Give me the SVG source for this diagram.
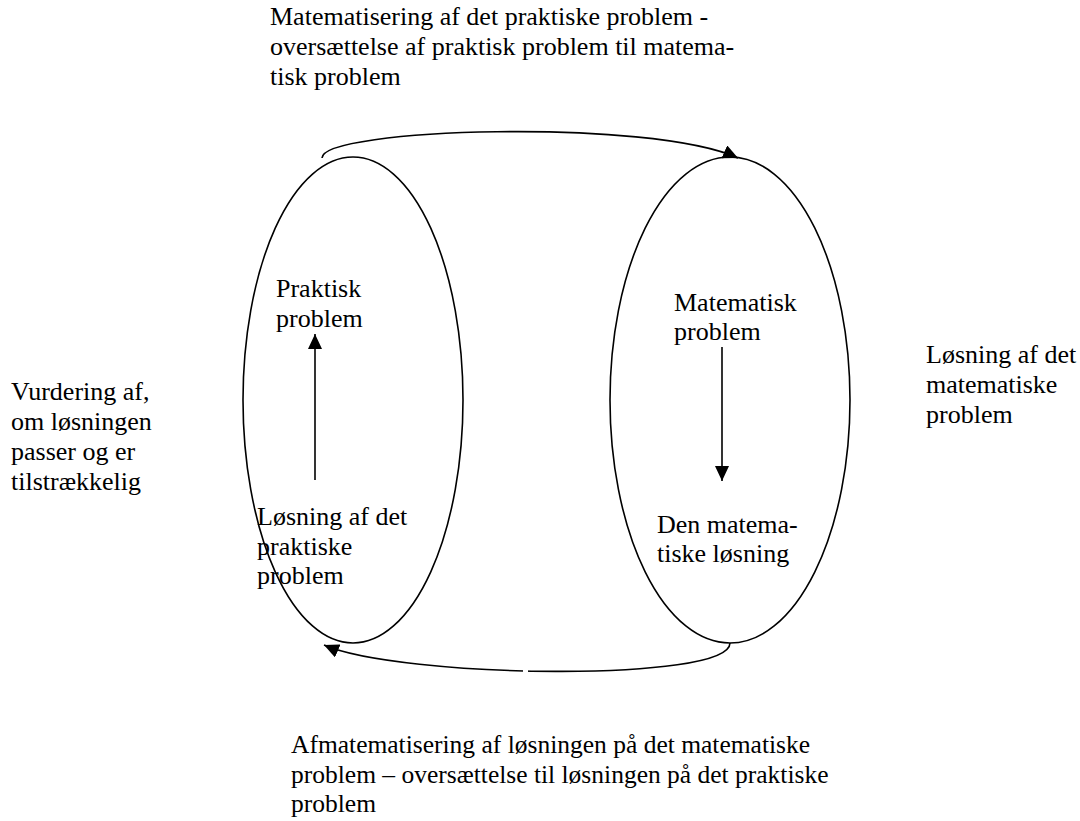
<svg xmlns="http://www.w3.org/2000/svg" width="1080" height="821" viewBox="0 0 1080 821">
<defs>
<style>
text{font-family:"Liberation Serif","Times New Roman",serif;font-size:26px;fill:#000}
.sm{font-size:25.5px}
.sh{fill:none;stroke:#000;stroke-width:1.6}
.ln{fill:none;stroke:#000;stroke-width:1.6}
.gap{stroke:#fff;stroke-width:4}
</style>
<marker id="ah" viewBox="0 0 10 10" refX="10" refY="5" markerWidth="15" markerHeight="14" markerUnits="userSpaceOnUse" orient="auto" preserveAspectRatio="none">
<path d="M0,0 L10,5 L0,10 z" fill="#000"/>
</marker>
</defs>
<rect width="1080" height="821" fill="#fff"/>
<g id="left-ellipse">
<ellipse class="sh" cx="353" cy="400" rx="110" ry="243"/>
<line class="gap" x1="408" y1="590" x2="413" y2="598"/>
<text x="276" y="297">Praktisk</text>
<text x="276" y="327">problem</text>
<text x="257" y="525">Løsning af det</text>
<text x="257" y="555">praktiske</text>
<text x="257" y="584">problem</text>
</g>
<g id="right-ellipse">
<ellipse class="sh" cx="730" cy="400" rx="120" ry="243"/>
<text x="674" y="311">Matematisk</text>
<text x="674" y="340">problem</text>
<text x="657" y="533">Den matema-</text>
<text x="657" y="562">tiske løsning</text>
</g>
<g id="labels">
<text x="270" y="25">Matematisering af det praktiske problem -</text>
<text x="270" y="55">oversættelse af praktisk problem til matema-</text>
<text x="270" y="85">tisk problem</text>
<text x="926" y="363">Løsning af det</text>
<text x="926" y="393">matematiske</text>
<text x="926" y="423">problem</text>
<text x="11" y="400">Vurdering af,</text>
<text x="11" y="430">om løsningen</text>
<text x="11" y="460">passer og er</text>
<text x="11" y="490">tilstrækkelig</text>
<text class="sm" x="291" y="753">Afmatematisering af løsningen på det matematiske</text>
<text class="sm" x="291" y="783">problem – oversættelse til løsningen på det praktiske</text>
<text class="sm" x="291" y="812">problem</text>
</g>
<g id="connectors">
<path class="ln" d="M322,158 C322,128 650,118 738,158" marker-end="url(#ah)"/>
<path class="ln" d="M730,643 C730,683 400,678 324,645" marker-end="url(#ah)"/>
<line class="gap" x1="523" y1="672" x2="528" y2="672"/>
<line class="ln" x1="315" y1="480" x2="315" y2="334" marker-end="url(#ah)"/>
<line class="ln" x1="722" y1="347" x2="722" y2="481" marker-end="url(#ah)"/>
</g>
</svg>
